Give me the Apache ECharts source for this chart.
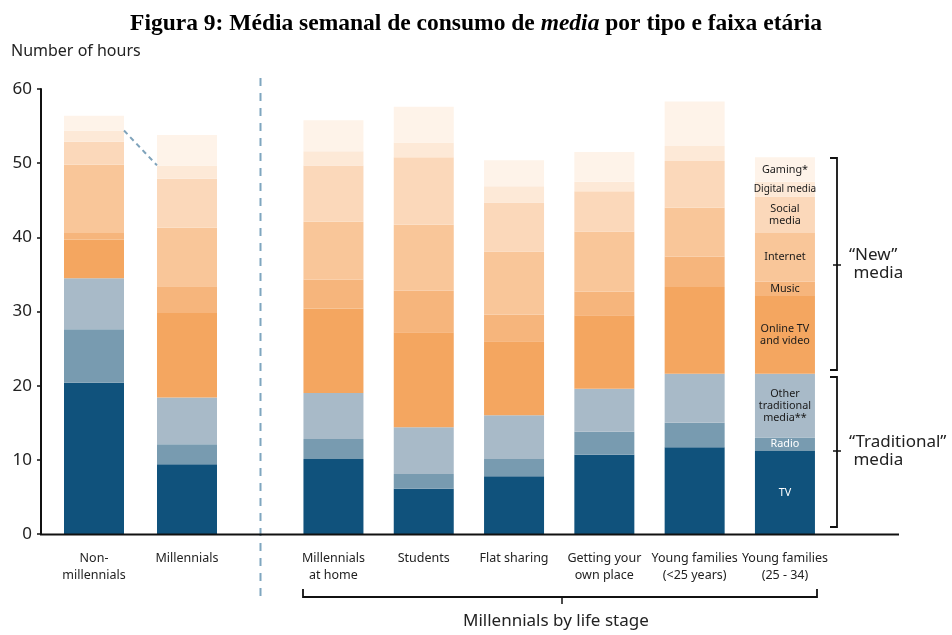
<!DOCTYPE html>
<html>
<head>
<meta charset="utf-8">
<script src="https://cdn.jsdelivr.net/npm/echarts@6/dist/echarts.min.js"></script>
<style>
  html, body { margin: 0; padding: 0; background: #fff; }
  #chart { width: 952px; height: 635px; }
</style>
</head>
<body>
<div id="chart"></div>
<script>
// Weekly hours of media use, by type and age group / life stage
const categories = [
  'Non-\nmillennials', 'Millennials',
  'Millennials\nat home', 'Students', 'Flat sharing',
  'Getting your\nown place', 'Young families\n(<25 years)', 'Young families\n(25 - 34)'
];
const tv          = [20.4,  9.4, 10.1,  6.1,  7.8, 10.7, 11.7, 11.2];
const radio       = [ 7.2,  2.7,  2.7,  2.0,  2.3,  3.1,  3.3,  1.8];
const otherTrad   = [ 6.9,  6.3,  6.2,  6.3,  5.9,  5.8,  6.6,  8.6];
const onlineTv    = [ 5.2, 11.4, 11.4, 12.8, 10.0,  9.9, 11.7, 10.5];
const music       = [ 0.9,  3.6,  3.9,  5.6,  3.6,  3.2,  4.1,  1.9];
const internet    = [ 9.2,  7.9,  7.8,  8.9,  8.5,  8.1,  6.6,  6.6];
const socialMedia = [ 3.1,  6.6,  7.6,  9.1,  6.6,  5.4,  6.3,  4.9];
const digitalMedia= [ 1.5,  1.8,  1.9,  2.0,  2.2,  1.3,  2.0,  2.0];
const gaming      = [ 2.0,  4.1,  4.2,  4.8,  3.5,  4.0,  6.0,  3.3];
const yTicks = [0, 10, 20, 30, 40, 50, 60];

const layers = [
  { name: 'TV',                    values: tv,           color: '#10527c', text: 'TV',                          textColor: '#ffffff' },
  { name: 'Radio',                 values: radio,        color: '#789bb0', text: 'Radio',                       textColor: '#ffffff' },
  { name: 'Other traditional media', values: otherTrad,  color: '#a8bac8', text: 'Other\ntraditional\nmedia**', textColor: '#1a1a1a' },
  { name: 'Online TV and video',   values: onlineTv,     color: '#f4a660', text: 'Online TV\nand video',        textColor: '#1a1a1a' },
  { name: 'Music',                 values: music,        color: '#f6b57c', text: 'Music',                       textColor: '#1a1a1a' },
  { name: 'Internet',              values: internet,     color: '#f9c699', text: 'Internet',                    textColor: '#1a1a1a' },
  { name: 'Social media',          values: socialMedia,  color: '#fbd8ba', text: 'Social\nmedia',               textColor: '#1a1a1a' },
  { name: 'Digital media',         values: digitalMedia, color: '#fde9d7', text: 'Digital media',               textColor: '#1a1a1a', size: 10 },
  { name: 'Gaming',                values: gaming,       color: '#fef3e9', text: 'Gaming*',                     textColor: '#1a1a1a' }
];

const FONT = '"Noto Sans", "Open Sans", sans-serif';
const nOverall = 2;            // first two columns: overall comparison
const lastIdx = categories.length - nOverall - 1;

const series = [];
layers.forEach(function (layer) {
  series.push({
    name: layer.name, type: 'bar', stack: 'overall',
    xAxisIndex: 0, yAxisIndex: 0, barWidth: 60,
    itemStyle: { color: layer.color },
    data: layer.values.slice(0, nOverall)
  });
  series.push({
    name: layer.name, type: 'bar', stack: 'stage',
    xAxisIndex: 1, yAxisIndex: 1, barWidth: 60,
    itemStyle: { color: layer.color },
    data: layer.values.slice(nOverall).map(function (v, i) {
      if (i !== lastIdx) return v;
      return {
        value: v,
        label: {
          show: true, position: 'inside', formatter: layer.text,
          color: layer.textColor, fontFamily: FONT, fontSize: layer.size || 10.8,
          lineHeight: 12
        }
      };
    })
  });
});

// Dashed link between the two overall columns, at the top of "Digital media"
function cumulative(idx, upto) {
  let s = 0;
  for (let k = 0; k <= upto; k++) s += layers[k].values[idx];
  return s;
}
const linkLevel = 7; // through Digital media
series.push({
  type: 'custom', xAxisIndex: 0, yAxisIndex: 0, silent: true, z: 5,
  data: [[0, cumulative(0, linkLevel), 1, cumulative(1, linkLevel)]],
  renderItem: function (params, api) {
    const a = api.coord([api.value(0), api.value(1)]);
    const b = api.coord([api.value(2), api.value(3)]);
    const half = 30; // half of the bar width
    return {
      type: 'line',
      shape: { x1: a[0] + half, y1: a[1], x2: b[0] - half, y2: b[1] },
      style: { stroke: '#7fa3bb', lineWidth: 2, lineDash: [5, 4] }
    };
  }
});

const chart = echarts.init(document.getElementById('chart'), null, { renderer: 'canvas' });

const axisCommon = {
  type: 'category',
  axisLine: { show: false },
  axisTick: { show: false },
  axisLabel: {
    interval: 0, color: '#222', fontFamily: FONT, fontSize: 12.5,
    lineHeight: 17, margin: 16
  }
};

chart.setOption({
  animation: false,
  backgroundColor: '#ffffff',
  title: {
    left: 'center', top: 7,
    text: '{b|Figura 9: Média semanal de consumo de }{i|media}{b| por tipo e faixa etária}',
    textStyle: {
      rich: {
        b: { fontFamily: '"Liberation Serif", "DejaVu Serif", serif', fontWeight: 'bold', fontSize: 23.5, color: '#000' },
        i: { fontFamily: '"Liberation Serif", "DejaVu Serif", serif', fontWeight: 'bold', fontStyle: 'italic', fontSize: 23.5, color: '#000' }
      }
    }
  },
  grid: [
    { left: 47.5, width: 186, top: 89, height: 445 },
    { left: 288.3, width: 541.8, top: 89, height: 445 }
  ],
  xAxis: [
    Object.assign({ gridIndex: 0, data: categories.slice(0, nOverall) }, axisCommon),
    Object.assign({ gridIndex: 1, data: categories.slice(nOverall) }, axisCommon)
  ],
  yAxis: [
    {
      gridIndex: 0, type: 'value', min: yTicks[0], max: yTicks[yTicks.length - 1], interval: 10,
      offset: 6.5,
      name: 'Number of hours', nameLocation: 'end', nameGap: 30,
      nameTextStyle: { align: 'left', padding: [0, 0, 0, -30], color: '#222', fontFamily: FONT, fontSize: 16 },
      axisLine: { show: true, lineStyle: { color: '#111', width: 2 } },
      axisTick: { show: true, length: 4, lineStyle: { color: '#111', width: 1.5 } },
      axisLabel: { color: '#222', fontFamily: FONT, fontSize: 17, margin: 9 },
      splitLine: { show: false }
    },
    {
      gridIndex: 1, type: 'value', min: yTicks[0], max: yTicks[yTicks.length - 1], interval: 10,
      show: false, splitLine: { show: false }
    }
  ],
  series: series,
  graphic: [
    // baseline running under all columns
    { type: 'line', shape: { x1: 40, y1: 534.5, x2: 899, y2: 534.5 }, style: { stroke: '#111', lineWidth: 2 }, z: 10 },
    // separator between overall and life-stage columns
    { type: 'line', shape: { x1: 260.5, y1: 78, x2: 260.5, y2: 600 }, style: { stroke: '#7fa6bf', lineWidth: 2, lineDash: [8, 7] } },
    // "New" media bracket
    { type: 'polyline', shape: { points: [[830, 158], [837, 158], [837, 370], [830, 370]] }, style: { stroke: '#111', lineWidth: 1.8, fill: null } },
    { type: 'line', shape: { x1: 833, y1: 265, x2: 841, y2: 265 }, style: { stroke: '#111', lineWidth: 1.5 } },
    { type: 'text', left: 849, top: 246, style: { text: '\u201cNew\u201d\n media', fill: '#222', font: '17px "Noto Sans", sans-serif', lineHeight: 18 } },
    // "Traditional" media bracket
    { type: 'polyline', shape: { points: [[830, 377], [837, 377], [837, 527], [830, 527]] }, style: { stroke: '#111', lineWidth: 1.8, fill: null } },
    { type: 'line', shape: { x1: 833, y1: 451, x2: 841, y2: 451 }, style: { stroke: '#111', lineWidth: 1.5 } },
    { type: 'text', left: 849, top: 433, style: { text: '\u201cTraditional\u201d\n media', fill: '#222', font: '17px "Noto Sans", sans-serif', lineHeight: 18 } },
    // life-stage bracket
    { type: 'polyline', shape: { points: [[303, 589], [303, 597], [817, 597], [817, 589]] }, style: { stroke: '#111', lineWidth: 1.8, fill: null } },
    { type: 'line', shape: { x1: 562, y1: 597, x2: 562, y2: 604 }, style: { stroke: '#111', lineWidth: 1.5 } },
    { type: 'text', left: 463, top: 613, style: { text: 'Millennials by life stage', fill: '#222', font: '17px "Noto Sans", sans-serif' } }
  ]
});
</script>
</body>
</html>
